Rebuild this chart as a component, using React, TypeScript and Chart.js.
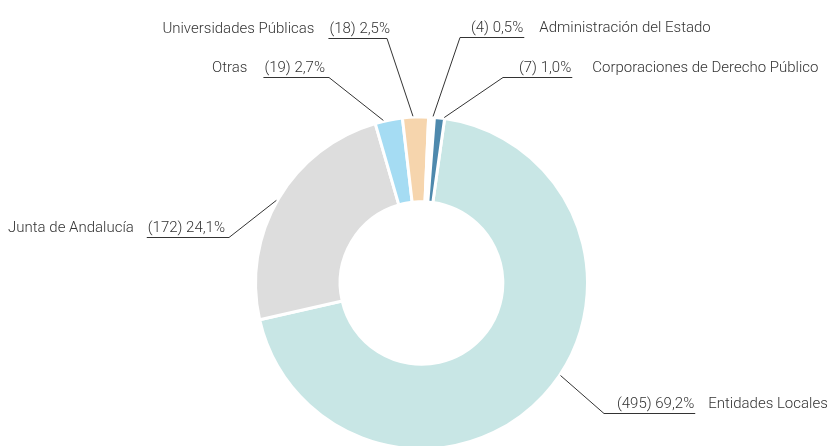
import React, { useEffect, useRef } from "react";
import { Chart, registerables } from "chart.js";

Chart.register(...registerables);

const categories = [
  "Entidades Locales",
  "Junta de Andalucía",
  "Otras",
  "Universidades Públicas",
  "Administración del Estado",
  "Corporaciones de Derecho Público",
];
const counts = [495, 172, 19, 18, 4, 7];
const percents = ["69,2%", "24,1%", "2,7%", "2,5%", "0,5%", "1,0%"];
const colors = ["#c8e6e5", "#dddddd", "#a5dcf3", "#f6d5ad", "#ffffff", "#4e89ad"];

// label placement: side, elbow offset from centre, position of the leader's start along the slice,
// horizontal shift of the value text and gap between value and name
const labelLayout = [
  { side: "right", dx: 182.5, dy: 130, frac: 0.464, shift: 0, gap: 14 },
  { side: "left", dx: -192.5, dy: -46, frac: 0.49, shift: 0, gap: 14 },
  { side: "left", dx: -92.5, dy: -206, frac: 0.31, shift: 0, gap: 17 },
  { side: "left", dx: -34.5, dy: -245, frac: 0.405, shift: 7, gap: 15 },
  { side: "right", dx: 38.5, dy: -246, frac: 0.75, shift: -2, gap: 16 },
  { side: "right", dx: 81.5, dy: -206, frac: 0.95, shift: 3, gap: 21 },
];

const FONT = '300 15px Roboto';
const TEXT_COLOR = "#333333";
const LINE_COLOR = "#333333";

const labelPlugin = {
  id: "leaderLabels",
  afterDraw(chart: any) {
    const ctx = chart.ctx as CanvasRenderingContext2D;
    const meta = chart.getDatasetMeta(0);
    ctx.save();
    ctx.font = FONT;
    ctx.textBaseline = "alphabetic";
    meta.data.forEach((arc: any, i: number) => {
      const p = arc.getProps(["x", "y", "startAngle", "endAngle", "outerRadius"], true);
      const L = labelLayout[i];
      const a = p.startAngle + (p.endAngle - p.startAngle) * L.frac;
      const ax = p.x + Math.cos(a) * (p.outerRadius + 1);
      const ay = p.y + Math.sin(a) * (p.outerRadius + 1);
      const ex = p.x + L.dx;
      const ey = Math.round(p.y + L.dy) + 0.5;
      const valText = `(${counts[i]}) ${percents[i]}`;
      const vw = ctx.measureText(valText).width;
      let ux1: number, ux2: number, vx: number, nx: number;
      let nameAlign: CanvasTextAlign;
      if (L.side === "right") {
        ux1 = ex;
        vx = ex + 13 + L.shift;
        ux2 = Math.max(vx + vw + 1, ex + 60);
        nx = vx + vw + L.gap;
        nameAlign = "left";
      } else {
        ux2 = ex;
        vx = ex - 4 - vw + L.shift;
        ux1 = Math.min(vx - 1, ex - 56);
        nx = vx - L.gap;
        nameAlign = "right";
      }
      ctx.strokeStyle = LINE_COLOR;
      ctx.lineWidth = 1;
      ctx.beginPath();
      ctx.moveTo(ax, ay);
      ctx.lineTo(ex, ey);
      ctx.lineTo(L.side === "right" ? ux2 : ux1, ey);
      ctx.stroke();

      ctx.fillStyle = TEXT_COLOR;
      ctx.textAlign = "left";
      ctx.fillText(valText, vx, ey - 6);
      ctx.textAlign = nameAlign;
      ctx.fillText(categories[i], nx, ey - 6);
    });
    ctx.restore();
  },
};

export default function App() {
  const ref = useRef<HTMLCanvasElement>(null);
  useEffect(() => {
    if (!ref.current) return;
    const chart = new Chart(ref.current, {
      type: "doughnut",
      data: {
        labels: categories,
        datasets: [
          {
            data: counts,
            backgroundColor: colors,
            borderColor: "#ffffff",
            borderWidth: 3,
            hoverOffset: 0,
            clip: false as any,
          },
        ],
      },
      options: {
        responsive: false,
        animation: false,
        rotation: 8,
        radius: 166,
        cutout: "49%",
        layout: { padding: { left: 14, right: 0, top: 120, bottom: 0 } },
        plugins: {
          legend: { display: false },
          tooltip: { enabled: false },
        },
      },
      plugins: [labelPlugin],
    });
    return () => chart.destroy();
  }, []);
  return (
    <div style={{ position: "absolute", left: 0, top: 0, width: 829, height: 446, overflow: "hidden", background: "#ffffff" }}>
      <canvas ref={ref} width={829} height={446} style={{ width: 829, height: 446, display: "block" }} />
    </div>
  );
}
